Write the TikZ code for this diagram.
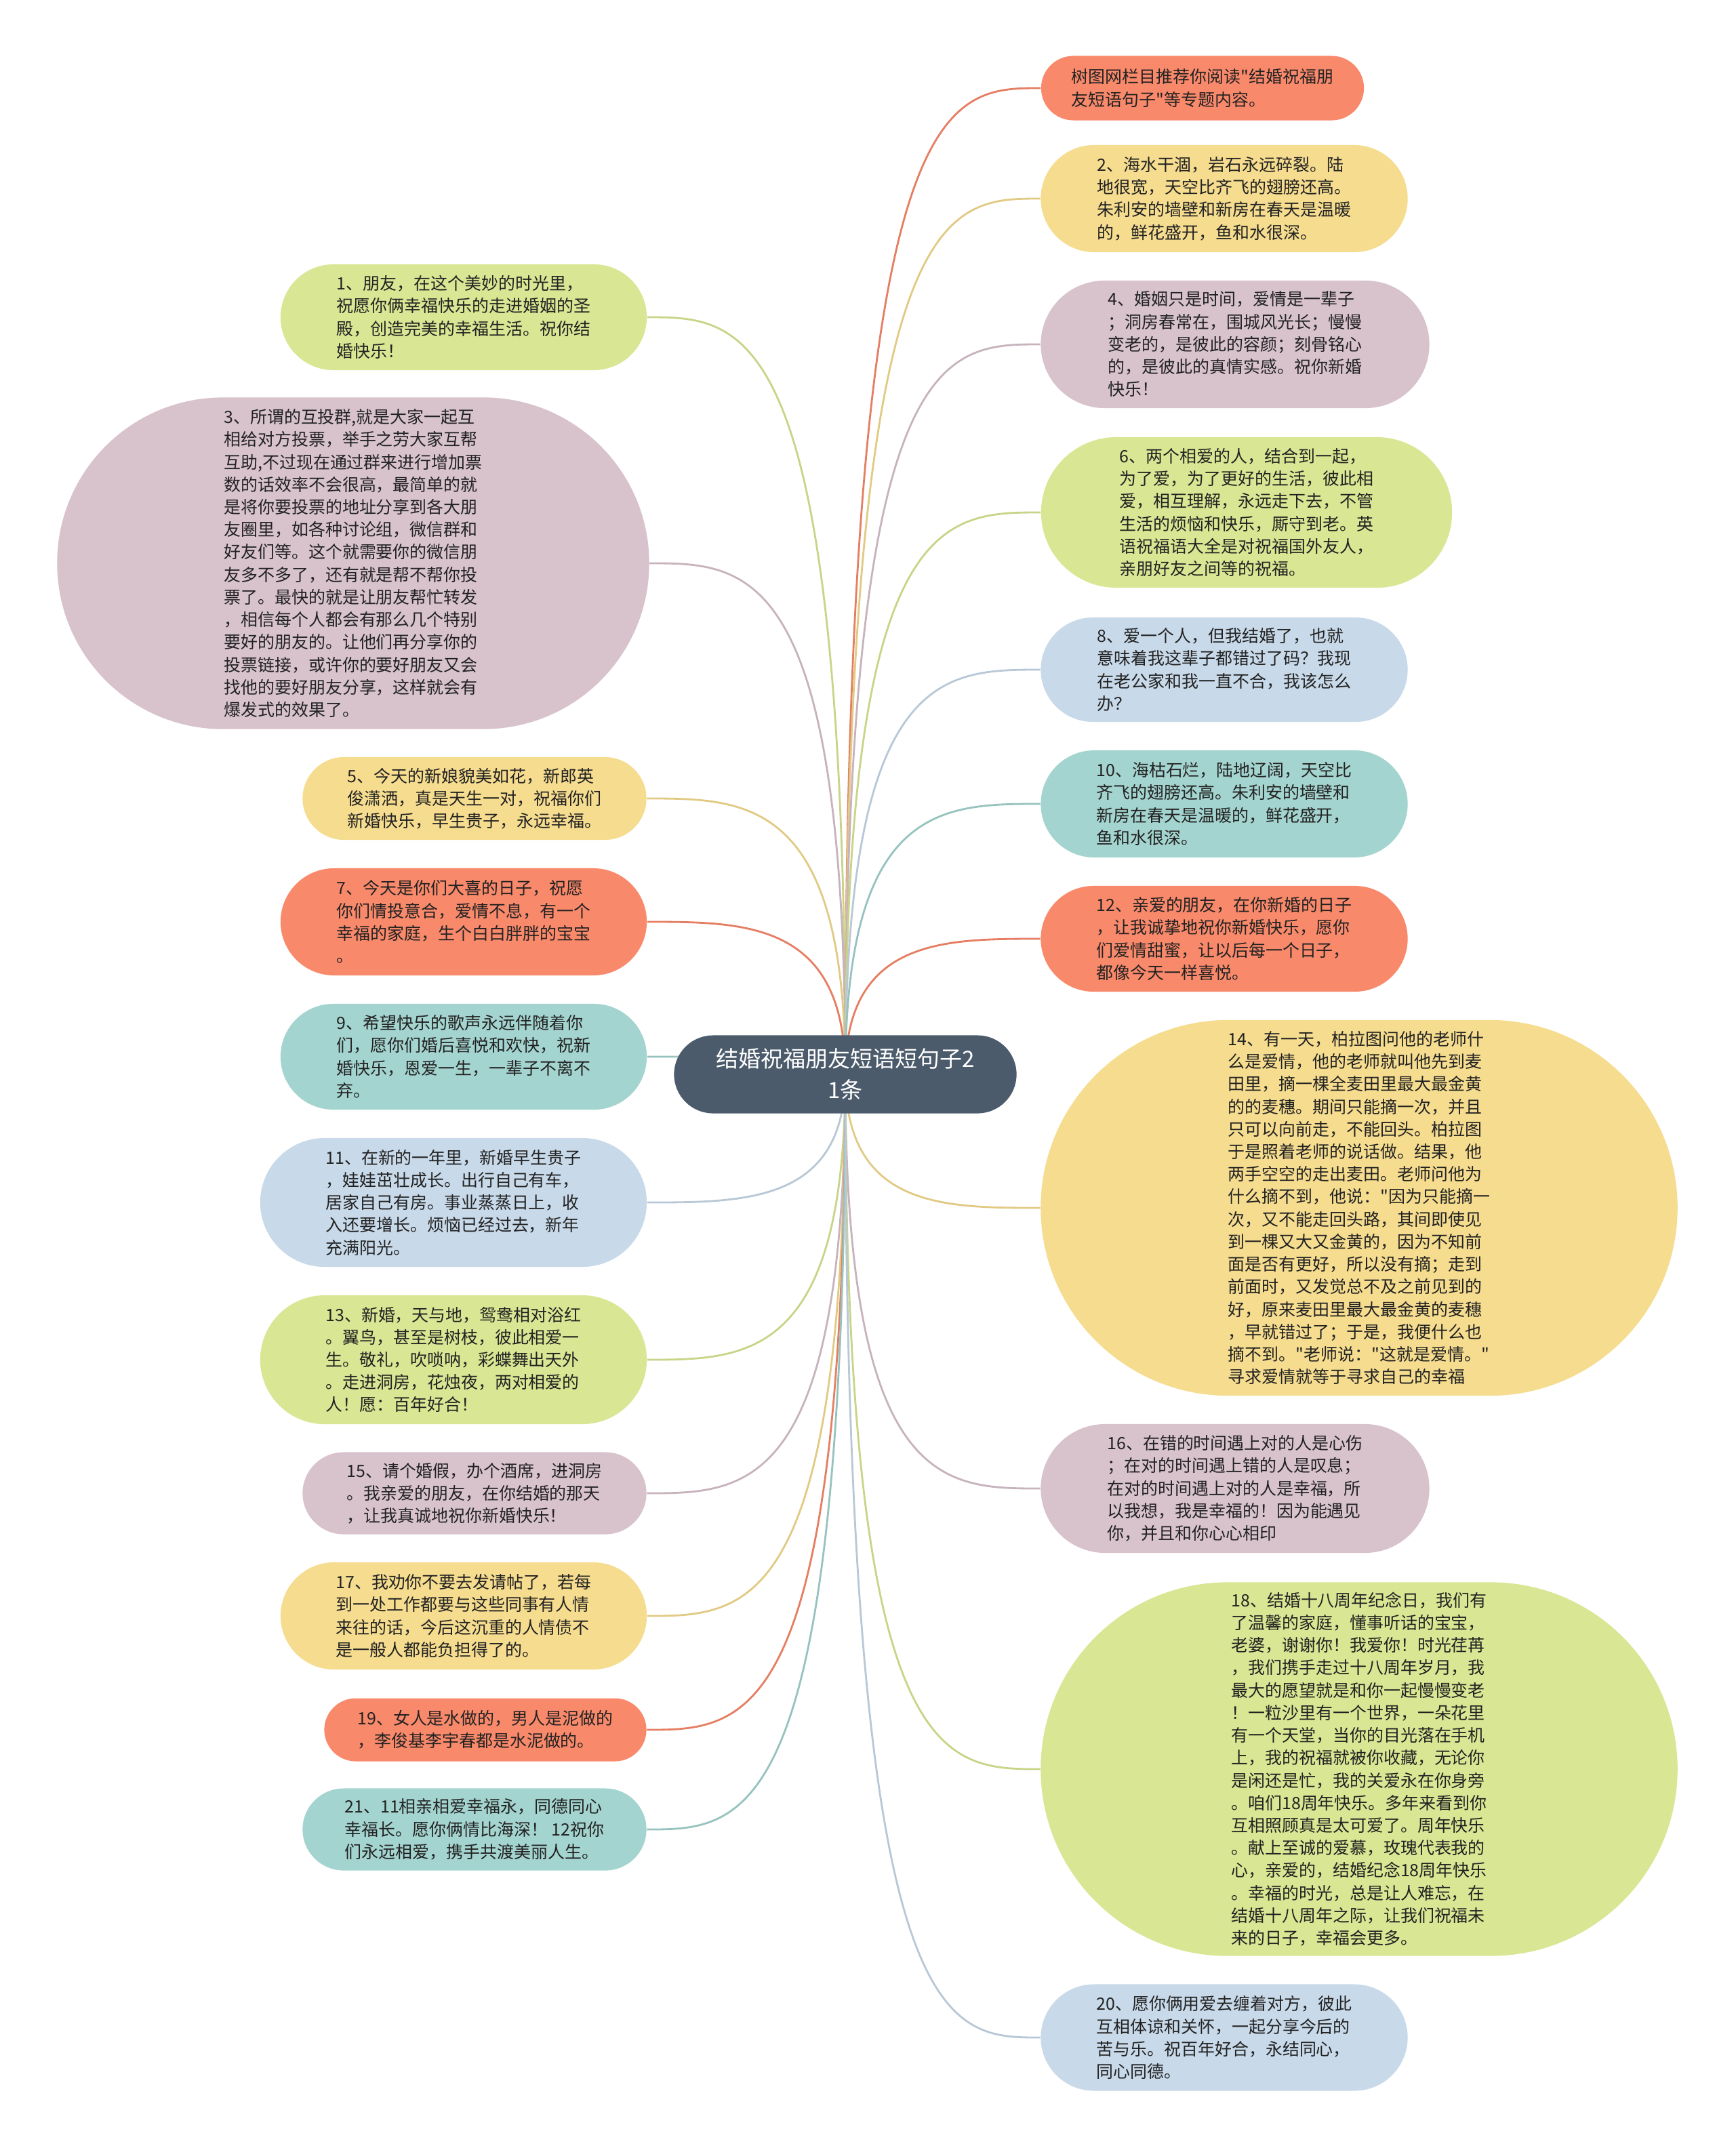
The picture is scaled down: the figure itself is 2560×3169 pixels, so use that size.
\documentclass[tikz,border=0pt]{standalone}
\usepackage{fontspec}
\setmainfont{Noto Sans CJK SC}[Ligatures=TeXOff]
\usetikzlibrary{calc,backgrounds}
\definecolor{cOr}{HTML}{F9896B}
\definecolor{cYe}{HTML}{F5DC8F}
\definecolor{cMa}{HTML}{D8C3CD}
\definecolor{cGr}{HTML}{D9E693}
\definecolor{cBl}{HTML}{C8D9E9}
\definecolor{cTe}{HTML}{A4D4CF}
\definecolor{cCe}{HTML}{4B5B6B}
\definecolor{cTx}{HTML}{222222}
\tikzset{
  bx/.style n args={3}{draw=none, fill=#1, minimum width=#2, minimum height=#3,
    rounded corners=#3*0.5, inner sep=0pt, align=left, text=cTx,
    font=\fontsize{7.1pt}{9.45pt}\selectfont},
  ln/.style={draw=#1!92!black, line width=0.8pt},
}
\newcommand{\lnk}[3]{\draw[ln=#3] (c.center) .. controls (c.center |- #1.#2) and ($(c.center |- #1.#2)!0.5!(#1.#2)$) .. (#1.#2);}
\begin{document}
\begin{tikzpicture}[x=0.01cm,y=-0.01cm]
\path[use as bounding box] (0,0) rectangle (2560,3169);

\node[fill=cCe, minimum width=5.05cm, minimum height=1.15cm, rounded corners=0.575cm,
  inner sep=0pt, align=center, text=white, font=\fontsize{9.4pt}{13.2pt}\selectfont]
  (c) at (1247,1585) {结婚祝福朋友短语短句子2\\1条};

% left side
\node[bx={cGr}{5.40cm}{1.56cm}] (l1) at (684,468) {1、朋友，在这个美妙的时光里，\\祝愿你俩幸福快乐的走进婚姻的圣\\殿，创造完美的幸福生活。祝你结\\婚快乐！};
\node[bx={cMa}{8.73cm}{4.89cm}] (l3) at (521,831) {3、所谓的互投群,就是大家一起互\\相给对方投票，举手之劳大家互帮\\互助,不过现在通过群来进行增加票\\数的话效率不会很高，最简单的就\\是将你要投票的地址分享到各大朋\\友圈里，如各种讨论组，微信群和\\好友们等。这个就需要你的微信朋\\友多不多了，还有就是帮不帮你投\\票了。最快的就是让朋友帮忙转发\\，相信每个人都会有那么几个特别\\要好的朋友的。让他们再分享你的\\投票链接，或许你的要好朋友又会\\找他的要好朋友分享，这样就会有\\爆发式的效果了。};
\node[bx={cYe}{5.07cm}{1.22cm}] (l5) at (700,1178) {5、今天的新娘貌美如花，新郎英\\俊潇洒，真是天生一对，祝福你们\\新婚快乐，早生贵子，永远幸福。};
\node[bx={cOr}{5.40cm}{1.58cm}] (l7) at (684,1360) {7、今天是你们大喜的日子，祝愿\\你们情投意合，爱情不息，有一个\\幸福的家庭，生个白白胖胖的宝宝\\。};
\node[bx={cTe}{5.40cm}{1.56cm}] (l9) at (684,1559) {9、希望快乐的歌声永远伴随着你\\们，愿你们婚后喜悦和欢快，祝新\\婚快乐，恩爱一生，一辈子不离不\\弃。};
\node[bx={cBl}{5.70cm}{1.90cm}] (l11) at (669,1774) {11、在新的一年里，新婚早生贵子\\，娃娃茁壮成长。出行自己有车，\\居家自己有房。事业蒸蒸日上，收\\入还要增长。烦恼已经过去，新年\\充满阳光。};
\node[bx={cGr}{5.70cm}{1.90cm}] (l13) at (669,2006) {13、新婚，天与地，鸳鸯相对浴红\\。翼鸟，甚至是树枝，彼此相爱一\\生。敬礼，吹唢呐，彩蝶舞出天外\\。走进洞房，花烛夜，两对相爱的\\人！愿：百年好合！};
\node[bx={cMa}{5.07cm}{1.21cm}] (l15) at (700,2203) {15、请个婚假，办个酒席，进洞房\\。我亲爱的朋友，在你结婚的那天\\，让我真诚地祝你新婚快乐！};
\node[bx={cYe}{5.40cm}{1.58cm}] (l17) at (684,2384) {17、我劝你不要去发请帖了，若每\\到一处工作都要与这些同事有人情\\来往的话，今后这沉重的人情债不\\是一般人都能负担得了的。};
\node[bx={cOr}{4.75cm}{0.93cm}] (l19) at (716,2552) {19、女人是水做的，男人是泥做的\\，李俊基李宇春都是水泥做的。};
\node[bx={cTe}{5.07cm}{1.21cm}] (l21) at (700,2699) {21、11相亲相爱幸福永，同德同心\\幸福长。愿你俩情比海深！ 12祝你\\们永远相爱，携手共渡美丽人生。};

% right side
\node[bx={cOr}{4.76cm}{0.95cm}] (r0) at (1774,130) {树图网栏目推荐你阅读"结婚祝福朋\\友短语句子"等专题内容。};
\node[bx={cYe}{5.41cm}{1.58cm}] (r2) at (1806,293) {2、海水干涸，岩石永远碎裂。陆\\地很宽，天空比齐飞的翅膀还高。\\朱利安的墙壁和新房在春天是温暖\\的，鲜花盛开，鱼和水很深。};
\node[bx={cMa}{5.73cm}{1.88cm}] (r4) at (1822,508) {4、婚姻只是时间，爱情是一辈子\\；洞房春常在，围城风光长；慢慢\\变老的，是彼此的容颜；刻骨铭心\\的，是彼此的真情实感。祝你新婚\\快乐！};
\node[bx={cGr}{6.06cm}{2.22cm}] (r6) at (1839,756) {6、两个相爱的人，结合到一起，\\为了爱，为了更好的生活，彼此相\\爱，相互理解，永远走下去，不管\\生活的烦恼和快乐，厮守到老。英\\语祝福语大全是对祝福国外友人，\\亲朋好友之间等的祝福。};
\node[bx={cBl}{5.41cm}{1.54cm}] (r8) at (1806,988) {8、爱一个人，但我结婚了，也就\\意味着我这辈子都错过了码？我现\\在老公家和我一直不合，我该怎么\\办？};
\node[bx={cTe}{5.41cm}{1.58cm}] (r10) at (1806,1186) {10、海枯石烂，陆地辽阔，天空比\\齐飞的翅膀还高。朱利安的墙壁和\\新房在春天是温暖的，鲜花盛开，\\鱼和水很深。};
\node[bx={cOr}{5.41cm}{1.56cm}] (r12) at (1806,1385) {12、亲爱的朋友，在你新婚的日子\\，让我诚挚地祝你新婚快乐，愿你\\们爱情甜蜜，让以后每一个日子，\\都像今天一样喜悦。};
\node[bx={cYe}{9.39cm}{5.54cm}] (r14) at (2005,1782) {14、有一天，柏拉图问他的老师什\\么是爱情，他的老师就叫他先到麦\\田里，摘一棵全麦田里最大最金黄\\的的麦穗。期间只能摘一次，并且\\只可以向前走，不能回头。柏拉图\\于是照着老师的说话做。结果，他\\两手空空的走出麦田。老师问他为\\什么摘不到，他说："因为只能摘一\\次，又不能走回头路，其间即使见\\到一棵又大又金黄的，因为不知前\\面是否有更好，所以没有摘；走到\\前面时，又发觉总不及之前见到的\\好，原来麦田里最大最金黄的麦穗\\，早就错过了；于是，我便什么也\\摘不到。"老师说："这就是爱情。"\\寻求爱情就等于寻求自己的幸福};
\node[bx={cMa}{5.73cm}{1.90cm}] (r16) at (1822,2196) {16、在错的时间遇上对的人是心伤\\；在对的时间遇上错的人是叹息；\\在对的时间遇上对的人是幸福，所\\以我想，我是幸福的！因为能遇见\\你，并且和你心心相印};
\node[bx={cGr}{9.39cm}{5.51cm}] (r18) at (2005,2610) {18、结婚十八周年纪念日，我们有\\了温馨的家庭，懂事听话的宝宝，\\老婆，谢谢你！我爱你！时光荏苒\\，我们携手走过十八周年岁月，我\\最大的愿望就是和你一起慢慢变老\\！一粒沙里有一个世界，一朵花里\\有一个天堂，当你的目光落在手机\\上，我的祝福就被你收藏，无论你\\是闲还是忙，我的关爱永在你身旁\\。咱们18周年快乐。多年来看到你\\互相照顾真是太可爱了。周年快乐\\。献上至诚的爱慕，玫瑰代表我的\\心，亲爱的，结婚纪念18周年快乐\\。幸福的时光，总是让人难忘，在\\结婚十八周年之际，让我们祝福未\\来的日子，幸福会更多。};
\node[bx={cBl}{5.41cm}{1.57cm}] (r20) at (1806,3006) {20、愿你俩用爱去缠着对方，彼此\\互相体谅和关怀，一起分享今后的\\苦与乐。祝百年好合，永结同心，\\同心同德。};

\begin{scope}[on background layer]
\fill[white] (0,0) rectangle (2560,3169);
\lnk{l1}{east}{cGr}
\lnk{l3}{east}{cMa}
\lnk{l5}{east}{cYe}
\lnk{l7}{east}{cOr}
\lnk{l9}{east}{cTe}
\lnk{l11}{east}{cBl}
\lnk{l13}{east}{cGr}
\lnk{l15}{east}{cMa}
\lnk{l17}{east}{cYe}
\lnk{l19}{east}{cOr}
\lnk{l21}{east}{cTe}
\lnk{r0}{west}{cOr}
\lnk{r2}{west}{cYe}
\lnk{r4}{west}{cMa}
\lnk{r6}{west}{cGr}
\lnk{r8}{west}{cBl}
\lnk{r10}{west}{cTe}
\lnk{r12}{west}{cOr}
\lnk{r14}{west}{cYe}
\lnk{r16}{west}{cMa}
\lnk{r18}{west}{cGr}
\lnk{r20}{west}{cBl}
\end{scope}
\end{tikzpicture}
\end{document}
